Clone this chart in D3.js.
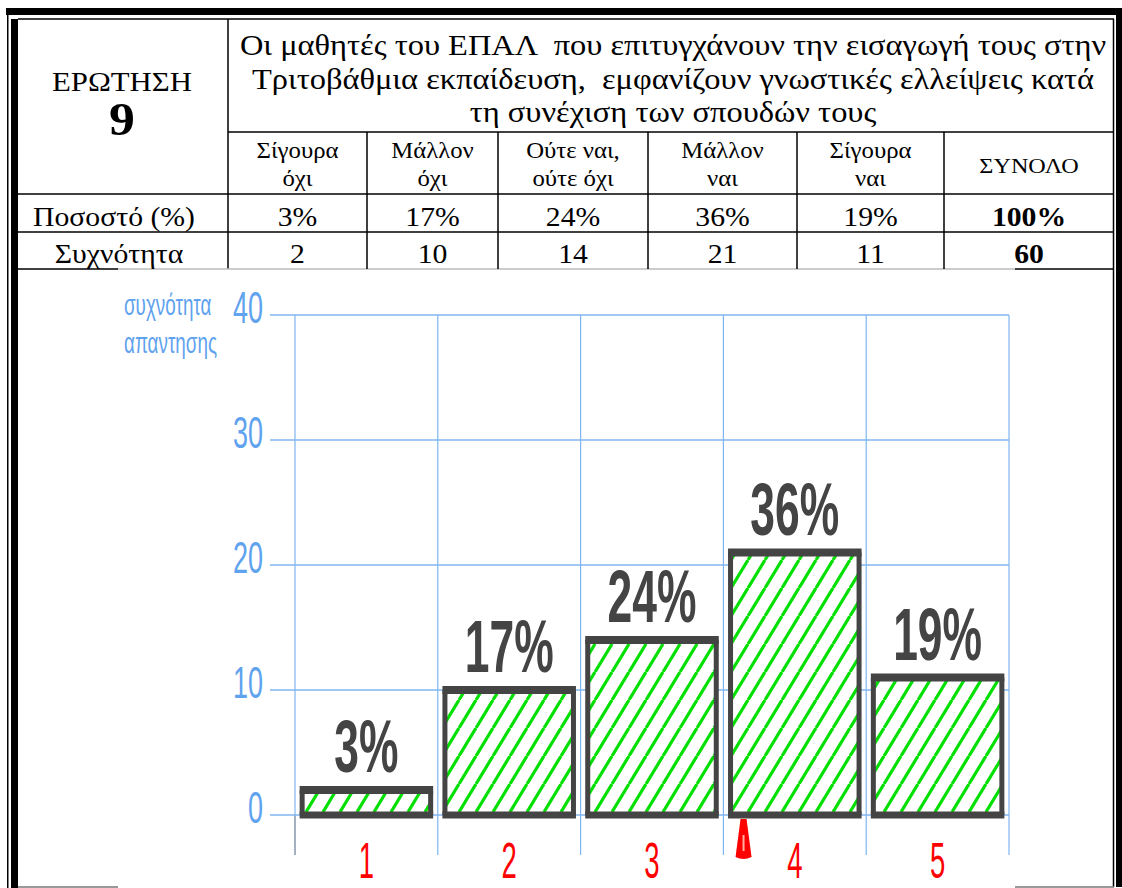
<!DOCTYPE html>
<html>
<head>
<meta charset="utf-8">
<script src="https://cdn.jsdelivr.net/npm/d3@7"></script>
<style>
  html, body { margin: 0; padding: 0; background: #fff; }
  svg { display: block; }
</style>
</head>
<body>
<div id="chart"></div>
<script>
// Data
const categories = ["1", "2", "3", "4", "5"];
const answerLabels = [["Σίγουρα", "όχι"], ["Μάλλον", "όχι"], ["Ούτε ναι,", "ούτε όχι"], ["Μάλλον", "ναι"], ["Σίγουρα", "ναι"]];
const percents = [3, 17, 24, 36, 19];
const frequencies = [2, 10, 14, 21, 11];
// totals as printed in the table
const totalPercent = "100%";
const totalFrequency = "60";
const titleLines = [
    "Οι μαθητές του ΕΠΑΛ  που επιτυγχάνουν την εισαγωγή τους στην",
    "Τριτοβάθμια εκπαίδευση,  εμφανίζουν γνωστικές ελλείψεις κατά",
    "τη συνέχιση των σπουδών τους"
];
const questionLabel = "ΕΡΩΤΗΣΗ";
const questionNumber = "9";
const yTitleLines = ["συχνότητα", "απαντησης"];

const W = 1122, H = 888;
const svg = d3.select("#chart").append("svg")
    .attr("width", W)
    .attr("height", H);

// ---------- table ----------
const serif = "'Liberation Serif', 'DejaVu Serif', 'Times New Roman', serif";
const sx = 1.1; // table text is a bit wide in the scan
const colX = [228, 367, 498, 648, 797, 944, 1114];
const rowY = { top: 19, title: 132, head: 194, pct: 232, freq: 269 };

function tText(x, y, str, size, bold) {
    return svg.append("text")
        .attr("transform", `translate(${x},${y}) scale(${sx},1)`)
        .attr("text-anchor", "middle")
        .style("font-family", serif)
        .style("font-size", size + "px")
        .style("font-weight", bold ? "bold" : "normal")
        .style("white-space", "pre")
        .attr("xml:space", "preserve")
        .attr("fill", "#000")
        .text(str);
}

// outer frame
svg.append("rect").attr("x", 6).attr("y", 8).attr("width", W - 6).attr("height", 7).attr("fill", "#000");
svg.append("rect").attr("x", 7).attr("y", 8).attr("width", 1.5).attr("height", H - 8).attr("fill", "#000");
svg.append("rect").attr("x", 11).attr("y", 19).attr("width", 7).attr("height", H - 19).attr("fill", "#000");
svg.append("rect").attr("x", 1116).attr("y", 8).attr("width", 6).attr("height", H - 9).attr("fill", "#000");

const line = (x1, y1, x2, y2, c, w) => svg.append("line")
    .attr("x1", x1).attr("y1", y1).attr("x2", x2).attr("y2", y2)
    .attr("stroke", c || "#000").attr("stroke-width", w || 1.5);

line(18, rowY.top, 1114, rowY.top);
line(1113.5, rowY.top, 1113.5, H - 1);
line(colX[0], rowY.top, colX[0], rowY.freq);
line(colX[0], rowY.title, 1114, rowY.title);
line(18, rowY.head, 1114, rowY.head);
line(18, rowY.pct, 1114, rowY.pct);
line(18, rowY.freq, 118, rowY.freq);
line(118, rowY.freq, 1015, rowY.freq, "#bbb", 1.5);
line(1015, rowY.freq, 1114, rowY.freq);
colX.slice(1, 6).forEach(x => line(x, rowY.title, x, rowY.freq));
line(18, H - 1, 118, H - 1, "#777", 1.5);
line(1015, H - 1, 1114, H - 1, "#777", 1.5);

// title
tText(122, 91, questionLabel, 28, false);
tText(122, 135, questionNumber, 47, true);
titleLines.forEach((t, i) => tText(673, 55 + i * 33.5, t, 29.5, false));

// header cells
answerLabels.forEach((pair, i) => {
    const cx = (colX[i] + colX[i + 1]) / 2;
    tText(cx, 158, pair[0], 22.5, false);
    tText(cx, 186, pair[1], 22.5, false);
});
tText((colX[5] + colX[6]) / 2, 173, "ΣΥΝΟΛΟ", 22, false);

// percent and frequency rows
tText(114, 226, "Ποσοστό (%)", 27, false);
tText(119, 263, "Συχνότητα", 27, false);
percents.forEach((p, i) => tText((colX[i] + colX[i + 1]) / 2, 226, p + "%", 27, false));
frequencies.forEach((f, i) => tText((colX[i] + colX[i + 1]) / 2, 263, f, 27, false));
tText((colX[5] + colX[6]) / 2, 226, totalPercent, 27, true);
tText((colX[5] + colX[6]) / 2, 263, totalFrequency, 27, true);

// ---------- chart ----------
const sans = "'Liberation Sans', Arial, sans-serif";
const gridColor = "#7fb6f2";
const blue = "#5fa2ee";
const barStroke = "#444";

const x = d3.scaleBand()
    .domain(categories)
    .range([295, 1009])
    .paddingInner(0.1)
    .paddingOuter(0.05);

const y = d3.scaleLinear()
    .domain([0, 40])
    .range([815, 315]);

// hatch pattern
const defs = svg.append("defs");
const pat = defs.append("pattern")
    .attr("id", "hatch")
    .attr("patternUnits", "userSpaceOnUse")
    .attr("width", 17)
    .attr("height", 28);
pat.append("rect").attr("width", 17).attr("height", 28).attr("fill", "#fff");
[-17, 0, 17].forEach(o => pat.append("line")
    .attr("x1", o).attr("y1", 28).attr("x2", o + 17).attr("y2", 0)
    .attr("stroke", "#00e000").attr("stroke-width", 3.2));

const step = x.step();
const gridLeft = x.range()[0];
const gridRight = x.range()[1];

// vertical grid lines at band boundaries
d3.range(categories.length + 1).forEach(i => {
    const gx = gridLeft + i * step;
    line(gx, y(40), gx, 855, gridColor, 1.2);
});
line(gridLeft, y(0), gridLeft, 855, "#999", 1.2);

// horizontal grid lines and tick labels
y.ticks(4).forEach(t => {
    line(270, y(t), gridRight, y(t), gridColor, 1.5);
    svg.append("text")
        .attr("transform", `translate(263,${y(t) + 8}) scale(0.6,1)`)
        .attr("text-anchor", "end")
        .style("font-family", sans)
        .style("font-size", "45px")
        .attr("fill", blue)
        .text(t);
});

// axis title
yTitleLines.forEach((t, i) => {
    svg.append("text")
        .attr("transform", `translate(124,${315 + i * 38}) scale(0.65,1)`)
        .style("font-family", sans)
        .style("font-size", "29px")
        .attr("fill", blue)
        .text(t);
});

// bars
const bars = svg.append("g");
categories.forEach((c, i) => {
    const v = frequencies[i];
    const bx = x(c), bw = x.bandwidth();
    bars.append("rect")
        .attr("x", bx)
        .attr("y", y(v))
        .attr("width", bw)
        .attr("height", y(0) - y(v))
        .attr("fill", "url(#hatch)")
        .attr("stroke", barStroke)
        .attr("stroke-width", 5)
        .attr("rx", 1.5);
    bars.append("line")
        .attr("x1", bx - 2.5).attr("x2", bx + bw + 2.5)
        .attr("y1", y(v)).attr("y2", y(v))
        .attr("stroke", barStroke).attr("stroke-width", 8);
    bars.append("line")
        .attr("x1", bx - 2.5).attr("x2", bx + bw + 2.5)
        .attr("y1", y(0)).attr("y2", y(0))
        .attr("stroke", barStroke).attr("stroke-width", 7);

    // percent label
    svg.append("text")
        .attr("transform", `translate(${bx + bw / 2},${y(v) - 18}) scale(0.6,1)`)
        .attr("text-anchor", "middle")
        .style("font-family", sans)
        .style("font-size", "74px")
        .style("font-weight", "bold")
        .attr("fill", "#444")
        .text(percents[i] + "%");

    // category label
    svg.append("text")
        .attr("transform", `translate(${bx + bw / 2},${878}) scale(0.55,1)`)
        .attr("text-anchor", "middle")
        .style("font-family", sans)
        .style("font-size", "50px")
        .attr("fill", "#f00")
        .text(c);
});

// small red marker below the 4th bar
const mx = x("4") + 13;
svg.append("path")
    .attr("d", `M${mx - 3},${y(0) + 4} L${mx + 3},${y(0) + 4} L${mx + 8},${y(0) + 42} Q${mx},${y(0) + 46} ${mx - 8},${y(0) + 42} Z`)
    .attr("fill", "#f00");
svg.append("line")
    .attr("x1", mx).attr("x2", mx)
    .attr("y1", y(0) + 20).attr("y2", y(0) + 36)
    .attr("stroke", "#ffb0a0").attr("stroke-width", 2);
</script>
</body>
</html>
